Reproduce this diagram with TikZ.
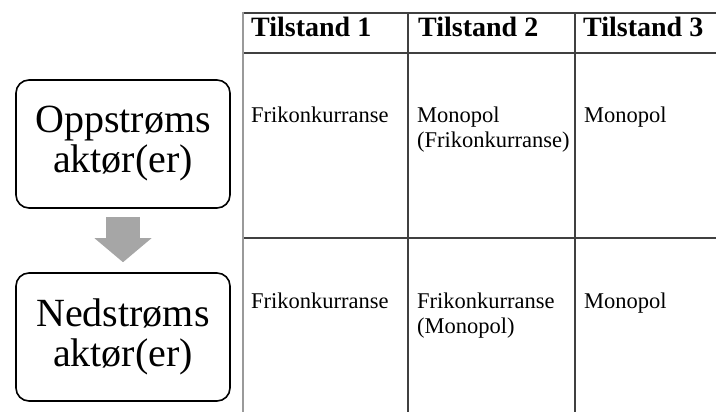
\documentclass[tikz,border=0pt]{standalone}
\usepackage{fontspec}
\setmainfont{Liberation Serif}
\usetikzlibrary{arrows.meta, positioning}
\definecolor{gridgray}{HTML}{404040}
\definecolor{edgegray}{HTML}{9A9A9A}
\definecolor{arrowgray}{HTML}{A6A6A6}

\begin{document}
\begin{tikzpicture}[x=1pt, y=-1pt,
  actor/.style={draw, line width=1.6pt, rounded corners=13pt,
    minimum width=214pt, minimum height=128pt, inner sep=0pt,
    align=center, font=\fontsize{40}{40}\selectfont},
  head/.style={anchor=base west, inner sep=0pt,
    font=\fontsize{28}{30}\selectfont\bfseries},
  cell/.style={anchor=base west, inner sep=0pt, align=left,
    font=\fontsize{22.5}{25}\selectfont}]
\useasboundingbox (0,0) rectangle (716,412);

% actors
\node[actor] (up) at (123,144) {Oppstrøms\\aktør(er)};
\node[actor] (down) at (123,337) {Nedstrøms\\aktør(er)};
\draw[arrowgray, line width=34pt,
  -{Triangle[length=24pt, width=57pt, line width=0pt]}]
  ([yshift=-8pt]up.south) -- ([yshift=10pt]down.north);

% table grid
\draw[gridgray, line width=1.2pt] (243,13) -- (716,13);
\draw[gridgray, line width=1.2pt] (243,53) -- (716,53);
\draw[gridgray, line width=1.2pt] (243,238) -- (716,238);
\draw[gridgray, line width=1.2pt] (408,13) -- (408,412);
\draw[gridgray, line width=1.2pt] (575,13) -- (575,412);
\draw[edgegray, line width=2.5pt] (243,12) -- (243,412);

% header (base = last line)
\node[head] (h1) at (251,37) {Tilstand 1};
\node[head] (h2) at (418,37) {Tilstand 2};
\node[head] (h3) at (583,37) {Tilstand 3};

% upstream row
\node[cell] (u1) at (251,123) {Frikonkurranse};
\node[cell] (u2) at (417,148) {Monopol\\(Frikonkurranse)};
\node[cell] (u3) at (584,123) {Monopol};

% downstream row
\node[cell] (d1) at (251,308) {Frikonkurranse};
\node[cell] (d2) at (417,333) {Frikonkurranse\\(Monopol)};
\node[cell] (d3) at (584,308) {Monopol};
\end{tikzpicture}
\end{document}
